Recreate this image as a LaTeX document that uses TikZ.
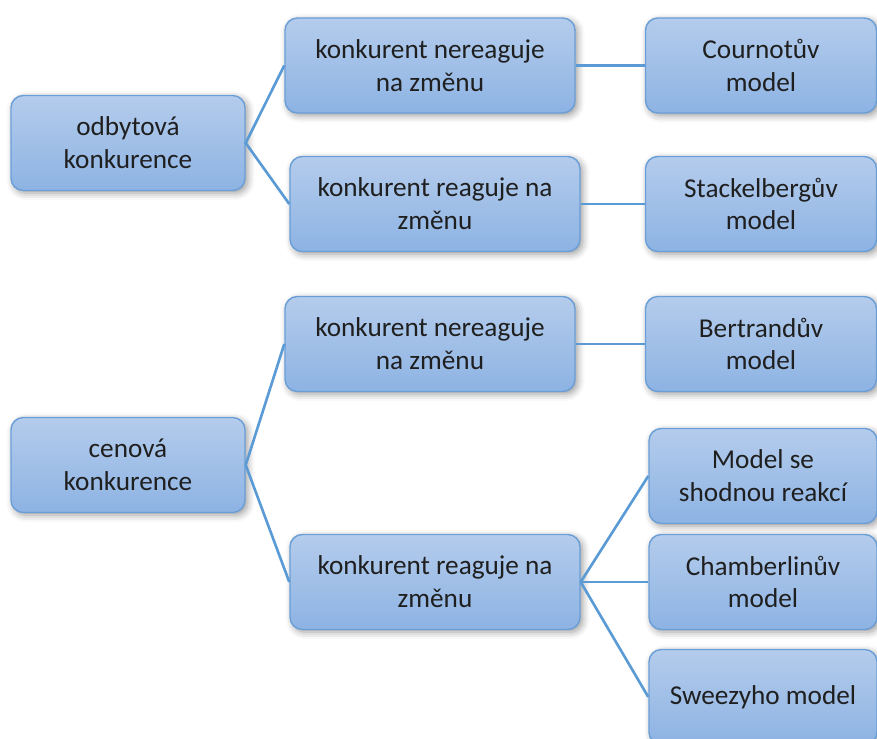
\documentclass[tikz,border=0pt]{standalone}
\usepackage{fontspec}
\setmainfont{Carlito}
\usetikzlibrary{shadows.blur}
\definecolor{boxtop}{RGB}{180,204,236}
\definecolor{boxbot}{RGB}{141,179,227}
\definecolor{boxline}{RGB}{106,158,215}
\definecolor{link}{RGB}{91,155,213}
\tikzset {box/.style={draw=boxline,line width=0.8pt,rounded corners=7pt,top color=boxtop,bottom color=boxbot,
  blur shadow={shadow xshift=1.5pt,shadow yshift=-1.5pt,shadow blur radius=4pt,shadow opacity=40},
  align=center,minimum height=1.9cm,inner sep=2pt,text=black!88,font=\fontsize{15.5}{18.7}\selectfont},
  link/.style={draw=link,line width=1.5pt}}

\begin{document}
\begin{tikzpicture}
\useasboundingbox (0,0) rectangle (17.54,-14.78);
\clip (0,0) rectangle (17.54,-14.78);

\node[box,minimum width=4.68cm] (odbyt) at (2.56,-2.86) {odbytová\\konkurence};
\node[box,minimum width=4.68cm] (cena) at (2.56,-9.30) {cenová\\konkurence};

\node[box,minimum width=5.8cm] (ner1) at (8.60,-1.31) {konkurent nereaguje\\na změnu};
\node[box,minimum width=5.8cm] (rea1) at (8.70,-4.08) {konkurent reaguje na\\změnu};
\node[box,minimum width=5.8cm] (ner2) at (8.60,-6.88) {konkurent nereaguje\\na změnu};
\node[box,minimum width=5.8cm] (rea2) at (8.70,-11.64) {konkurent reaguje na\\změnu};

\node[box,minimum width=4.62cm] (cournot) at (15.22,-1.31) {Cournotův\\model};
\node[box,minimum width=4.62cm] (stack) at (15.22,-4.08) {Stackelbergův\\model};
\node[box,minimum width=4.62cm] (bert) at (15.22,-6.88) {Bertrandův\\model};
\node[box,minimum width=4.56cm] (shod) at (15.26,-9.52) {Model se\\shodnou reakcí};
\node[box,minimum width=4.56cm] (chamb) at (15.26,-11.64) {Chamberlinův\\model};
\node[box,minimum width=4.56cm] (sweez) at (15.26,-13.94) {Sweezyho model};

\draw[link] (ner1.west) -- (odbyt.east) -- (rea1.west);
\draw[link] (ner2.west) -- (cena.east) -- (rea2.west);
\draw[link] (ner1.east) -- (cournot.west);
\draw[link] (rea1.east) -- (stack.west);
\draw[link] (ner2.east) -- (bert.west);
\draw[link] (rea2.east) -- (shod.west);
\draw[link] (rea2.east) -- (chamb.west);
\draw[link] (rea2.east) -- (sweez.west);
\end{tikzpicture}
\end{document}
